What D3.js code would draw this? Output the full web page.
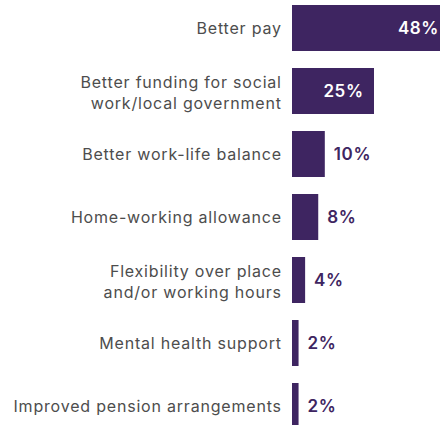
<!DOCTYPE html>
<html>
<head>
<meta charset="utf-8">
<script src="https://cdn.jsdelivr.net/npm/d3@7"></script>
<style>
  html, body { margin: 0; padding: 0; background: #fff; }
  svg { display: block; }
</style>
</head>
<body>
<script>
// Survey responses: what would most improve retention
const categories = [
  ["Better pay"],
  ["Better funding for social", "work/local government"],
  ["Better work-life balance"],
  ["Home-working allowance"],
  ["Flexibility over place", "and/or working hours"],
  ["Mental health support"],
  ["Improved pension arrangements"]
];
const values = [48, 25, 10, 8, 4, 2, 2];
const valueLabels = ["48%", "25%", "10%", "8%", "4%", "2%", "2%"];

const W = 440, H = 425;
const barColor = "#3e2561";
const textColor = "#4d4d4d";
const catSpacing = 0.8;
const valSpacing = 0.6;

const svg = d3.select("body").append("svg")
  .attr("width", W).attr("height", H);

const rows = d3.range(values.length);

const y = d3.scaleBand()
  .domain(rows)
  .range([-3.5, 437.5])
  .paddingInner(0.27)
  .paddingOuter(0.135);

const x = d3.scaleLinear()
  .domain([0, 50])
  .range([292, 456]);

// Bars
svg.append("g").selectAll("rect")
  .data(rows)
  .join("rect")
  .attr("x", x(0))
  .attr("y", i => y(i))
  .attr("width", i => x(values[i]) - x(0))
  .attr("height", y.bandwidth())
  .attr("fill", barColor);

// Category labels, right-aligned beside the bars
const catG = svg.append("g")
  .attr("font-family", "Inter, 'Liberation Sans', Arial, sans-serif")
  .attr("font-size", 16)
  .attr("font-weight", 400)
  .attr("letter-spacing", catSpacing)
  .attr("fill", textColor)
  .attr("text-anchor", "end");

rows.forEach(i => {
  const cy = y(i) + y.bandwidth() / 2;
  const lines = categories[i];
  const t = catG.append("text");
  if (lines.length === 1) {
    t.append("tspan").attr("x", 281 + catSpacing).attr("y", cy + 6).text(lines[0]);
  } else {
    t.append("tspan").attr("x", 281 + catSpacing).attr("y", cy - 3).text(lines[0]);
    t.append("tspan").attr("x", 281 + catSpacing).attr("y", cy + 17.5).text(lines[1]);
  }
});

// Value labels: inside the bar for long bars, outside otherwise
svg.append("g")
  .attr("font-family", "Inter, 'Liberation Sans', Arial, sans-serif")
  .attr("font-size", 17)
  .attr("font-weight", 600)
  .attr("letter-spacing", valSpacing)
  .selectAll("text")
  .data(rows)
  .join("text")
  .attr("y", i => y(i) + y.bandwidth() / 2 + 6)
  .attr("x", i => values[i] >= 20 ? x(values[i]) - 11 + valSpacing : x(values[i]) + 9)
  .attr("text-anchor", i => values[i] >= 20 ? "end" : "start")
  .attr("fill", i => values[i] >= 20 ? "#ffffff" : barColor)
  .text(i => valueLabels[i]);
</script>
</body>
</html>
